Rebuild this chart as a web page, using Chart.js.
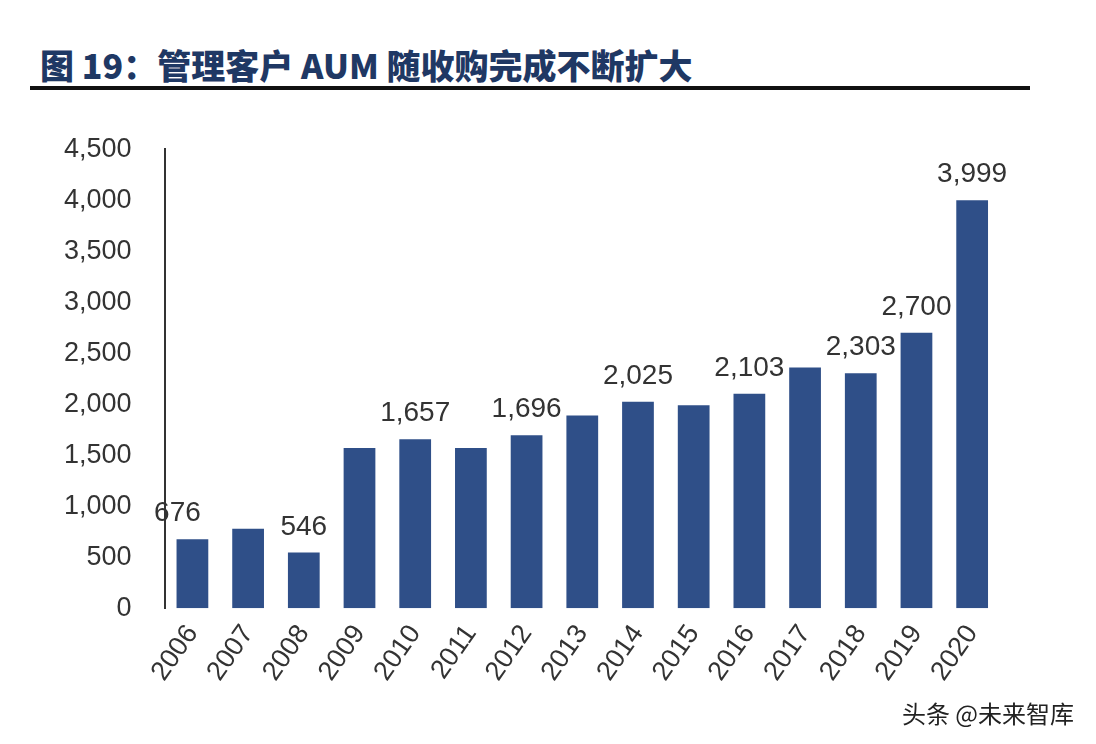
<!DOCTYPE html>
<html><head><meta charset="utf-8">
<script src="https://cdn.jsdelivr.net/npm/chart.js@4/dist/chart.umd.min.js"></script>
<style>body{margin:0;background:#fff;width:1096px;height:744px;overflow:hidden;position:relative;font-family:"Noto Sans CJK SC",sans-serif}
#t{position:absolute;left:40px;top:40px;font-size:34px;font-weight:900;color:#1f3864}
#l{position:absolute;left:30px;top:86px;width:1000px;height:4px;background:#111}
#w{position:absolute;right:22px;bottom:14px;font-size:24px;color:#222}
#c{position:absolute;left:0;top:100px}</style></head><body>
<div id="t">图 19：管理客户 AUM 随收购完成不断扩大</div><div id="l"></div>
<div id="c"><canvas id="cv" width="1030" height="600"></canvas></div>
<div id="w">头条 @未来智库</div>
<script>
const categories=["2006","2007","2008","2009","2010","2011","2012","2013","2014","2015","2016","2017","2018","2019","2020"];
const values=[676,780,546,1570,1657,1570,1696,1890,2025,1990,2103,2360,2303,2700,3999];
const shownLabels=["676","","546","","1,657","","1,696","","2,025","","2,103","","2,303","2,700","3,999"];
const tickLabels=["0","500","1,000","1,500","2,000","2,500","3,000","3,500","4,000","4,500"];
const lbl={id:'lbl',afterDatasetsDraw(ch){const c=ch.ctx;const m=ch.getDatasetMeta(0);c.save();c.font='28px "Liberation Sans"';c.fillStyle='#333';c.textAlign='center';
m.data.forEach((b,i)=>{if(shownLabels[i])c.fillText(shownLabels[i],b.x+(i==0?-15:0),b.y-18);});c.restore();}};
new Chart(document.getElementById('cv'),{type:'bar',data:{labels:categories,datasets:[{data:values,backgroundColor:'#2f4f88',barPercentage:0.57,categoryPercentage:1}]},
options:{responsive:false,animation:false,layout:{padding:{left:31,right:30,top:24,bottom:10}},plugins:{legend:{display:false},tooltip:{enabled:false}},
scales:{y:{min:0,max:4500,afterBuildTicks:a=>{a.ticks=tickLabels.map((t,i)=>({value:i*500}));},ticks:{callback:(v,i)=>tickLabels[i],font:{size:27,family:'Liberation Sans'},color:'#333',padding:33},grid:{display:false,drawTicks:false},border:{color:'#333',width:2}},
x:{offset:true,grid:{display:false},border:{display:false},ticks:{maxRotation:55,minRotation:55,font:{size:27,family:'Liberation Sans'},color:'#333'}}}},plugins:[lbl]});
</script></body></html>
